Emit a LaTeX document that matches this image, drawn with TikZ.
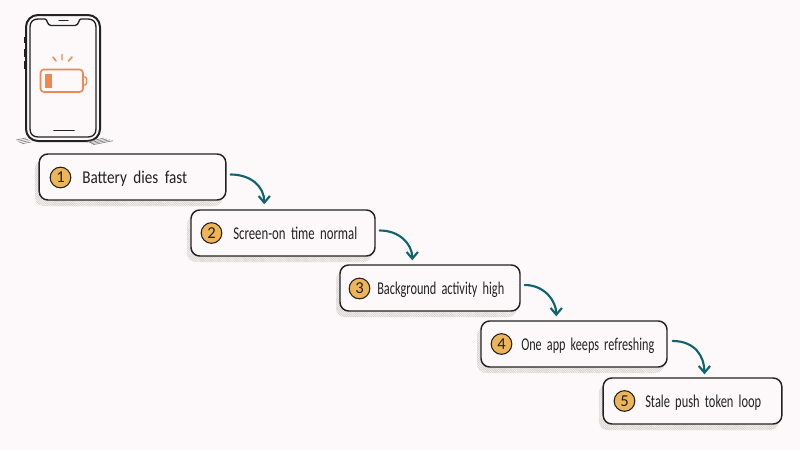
\documentclass[tikz,border=0pt]{standalone}
\usepackage{fontspec}
\usepackage{graphicx}
\setmainfont{Carlito}
\usetikzlibrary{calc,arrows.meta,patterns.meta}
\definecolor{paper}{HTML}{FDF9FA}
\definecolor{ink}{HTML}{222222}
\definecolor{teal}{HTML}{0F6470}
\definecolor{badge}{HTML}{EDB458}
\definecolor{warn}{HTML}{EE8850}
\definecolor{hatch}{HTML}{D4D0CD}
% set a caption to a fixed width at its natural height, with slightly open word gaps
\newcommand{\fitcaption}[2]{\resizebox{#1}{\height}{\spaceskip=.42em\relax #2}}
\tikzset{
  x=0.75pt,y=-0.75pt,
  stepcard/.style={draw=ink,line width=1.1pt,fill=paper,rounded corners=6.5pt,minimum height=34.5pt,inner sep=0pt},
  cardshadow/.style={pattern={Lines[angle=-45,distance=1.2pt,line width=.6pt]},pattern color=hatch,draw=none,rounded corners=6.5pt},
  numdot/.style={circle,draw=ink,line width=.8pt,fill=badge,minimum size=15.5pt,inner sep=0pt,font=\fontsize{12.5}{14}\selectfont,text=ink},
  steptext/.style={anchor=base west,inner sep=0pt,font=\fontsize{13.5}{15}\selectfont,text=ink},
  flow/.style={draw=teal,line width=1.6pt,line cap=round,-{Straight Barb[length=5pt,width=8.5pt,line width=1.6pt]}},
  phone/.style={draw=ink,line width=1.5pt,line join=round},
  phonethin/.style={draw=ink,line width=1pt,line join=round},
  cell/.style={draw=warn,line width=1.1pt,line cap=round},
  groundline/.style={draw=black!50,line width=.45pt}
}
\begin{document}
\begin{tikzpicture}
\useasboundingbox[fill=paper] (0,0) rectangle (800,450);

% side buttons, then the phone body
\draw[line width=2.2pt,ink] (25,37) -- (25,43) (25,49) -- (25,57) (25,61) -- (25,69);
\draw[phone,fill=paper,rounded corners=9pt] (26,15) rectangle (100,141);
% inner screen outline with its notch
\draw[phonethin]
  (38,19) -- (45,19)
  .. controls (47.5,19) and (47,25.5) .. (51,25.5) -- (75,25.5)
  .. controls (79,25.5) and (78.5,19) .. (81,19) -- (88,19)
  .. controls (93,19) and (96,22) .. (96,27) -- (96,129)
  .. controls (96,134) and (93,137) .. (88,137) -- (38,137)
  .. controls (33,137) and (30,134) .. (30,129) -- (30,27)
  .. controls (30,22) and (33,19) .. (38,19) -- cycle;
\draw[line width=1.1pt,ink,line cap=round] (59,20.5) -- (68,20.5);
\draw[line width=1.3pt,ink,line cap=round] (54,130.5) -- (74,130.5);

% battery
\draw[cell,rounded corners=2.5pt,line width=1.2pt] (40.5,69.5) rectangle (83,92);
\draw[cell,rounded corners=1pt] (83,77) -- (86.5,77) -- (86.5,85) -- (83,85);
\fill[warn] (44.5,74) rectangle (52,88);
\draw[cell] (53,57) -- (56,61) (62,54.5) -- (62,60) (72,57) -- (68.5,61);

% ground strokes under the phone
\foreach \d in {0,1,2,3}{
  \draw[groundline] ({16+\d*1.8},{140+\d*1.3}) -- ({26+\d*1.8},{138+\d*1.3});
  \draw[groundline] ({87+\d*2},{142+\d*0.9}) -- ({104+\d*3},{138+\d*0.9});
}

% hatched shadows behind the cards
\fill[cardshadow] (35,160) rectangle (223,206);
\fill[cardshadow] (187,216) rectangle (372,262);
\fill[cardshadow] (336,271) rectangle (517,317);
\fill[cardshadow] (477,327) rectangle (664,373);
\fill[cardshadow] (599,384) rectangle (779,430);

% cards
\node[stepcard,minimum width=140pt] (c1) at (132.5,177) {};
\node[stepcard,minimum width=138pt] (c2) at (283,233) {};
\node[stepcard,minimum width=135pt] (c3) at (430,288) {};
\node[stepcard,minimum width=139.5pt] (c4) at (574,344) {};
\node[stepcard,minimum width=134pt] (c5) at (692.5,401) {};

% numbered badges
\node[numdot] (n1) at (60.5,177.5) {1};
\node[numdot] (n2) at (211.5,233) {2};
\node[numdot] (n3) at (359.5,288.5) {3};
\node[numdot] (n4) at (501.5,344) {4};
\node[numdot] (n5) at (624.5,401) {5};

% step captions
\node[steptext] (t1) at (82,183.5) {\fitcaption{78.75pt}{Battery dies fast}};
\node[steptext] (t2) at (233,239) {\fitcaption{93pt}{Screen-on time normal}};
\node[steptext] (t3) at (377,294.5) {\fitcaption{95.25pt}{Background activity high}};
\node[steptext] (t4) at (521,350) {\fitcaption{99.75pt}{One app keeps refreshing}};
\node[steptext] (t5) at (645,407.5) {\fitcaption{87pt}{Stale push token loop}};

% connectors between steps
\coordinate (a1) at ($(c1.east)+(4,-2.5)$);
\coordinate (b1) at ($(c2.north west)+(74,-5)$);
\coordinate (a2) at ($(c2.east)+(4,-2.5)$);
\coordinate (b2) at ($(c3.north west)+(73,-4)$);
\coordinate (a3) at ($(c3.east)+(4,-3)$);
\coordinate (b3) at ($(c4.north west)+(76,-4)$);
\coordinate (a4) at ($(c4.east)+(5,-3)$);
\coordinate (b4) at ($(c5.north west)+(102,-3)$);
\draw[flow] (a1) .. controls ++(20,0) and ++(0,-18) .. (b1);
\draw[flow] (a2) .. controls ++(20,0) and ++(0,-16) .. (b2);
\draw[flow] (a3) .. controls ++(20,0) and ++(0,-15) .. (b3);
\draw[flow] (a4) .. controls ++(22,0) and ++(0,-18) .. (b4);
\end{tikzpicture}
\end{document}
